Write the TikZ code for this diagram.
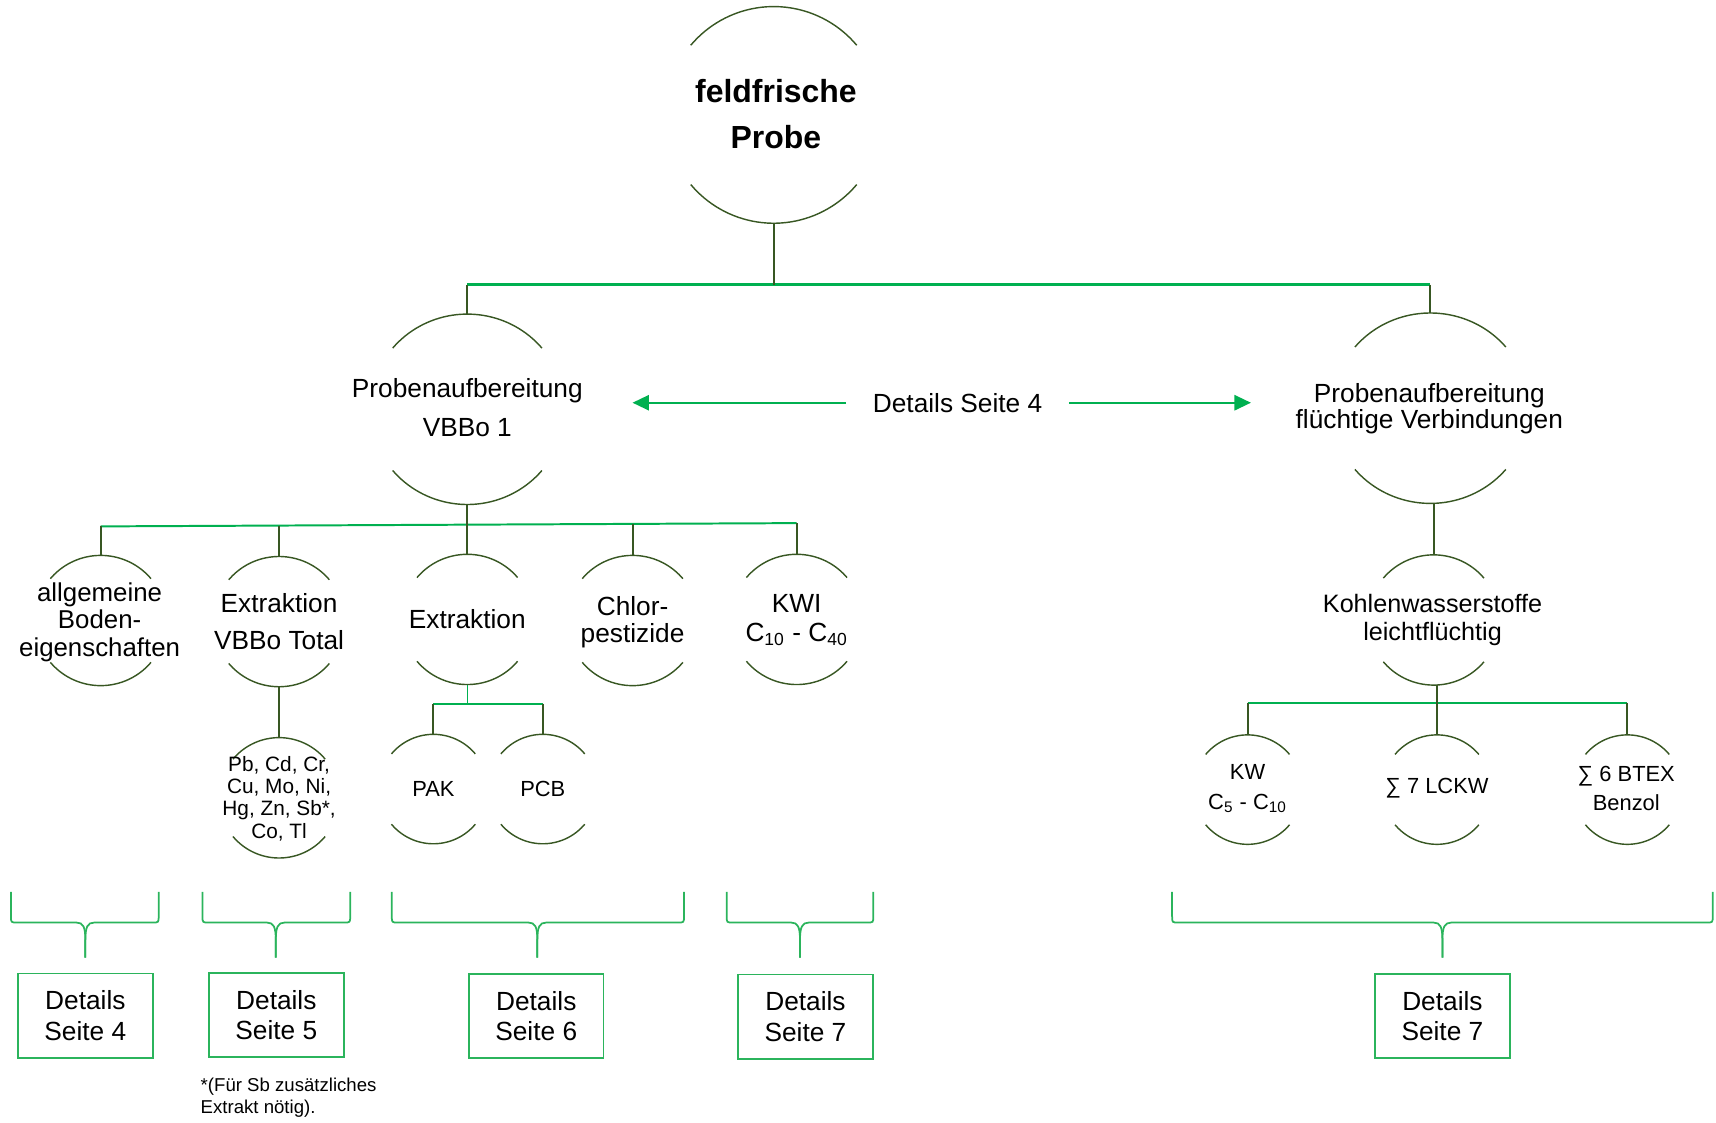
\documentclass[tikz,border=0pt]{standalone}
\usepackage{fontspec}
\setmainfont{Liberation Sans}
\usetikzlibrary{shapes.geometric,arrows.meta}
\definecolor{darkg}{HTML}{385723}
\definecolor{brightg}{HTML}{00B050}
\definecolor{braceg}{HTML}{2BB45C}
\tikzset{
  ringshape/.style={ellipse, inner sep=0pt, outer sep=0pt},
  ringline/.style={draw=darkg, line width=0.65pt},
  txt/.style={align=center, inner sep=0pt},
  conn/.style={draw=darkg, line width=0.9pt},
  gbar/.style={draw=brightg, line width=1.1pt},
  gbarthin/.style={draw=brightg, line width=0.9pt},
  arr/.style={draw=brightg, line width=0.75pt, -{Triangle[length=7.5pt,width=7pt]}},
  bracel/.style={draw=braceg, line width=0.8pt},
  detbox/.style={draw=braceg, line width=0.8pt, minimum width=61.5pt, minimum height=38.5pt,
    align=center, inner sep=0pt, font=\fontsize{12}{14}\selectfont},
  f12/.style={font=\fontsize{12}{12.5}\selectfont},
  f10/.style={font=\fontsize{10}{14}\selectfont}
}
\newcommand\ringnode[5]{%
  \node[ringshape, minimum width=#4pt, minimum height=#5pt] (#1) at (#2,#3) {};
  \draw[ringline, shift={(#1.center)}] plot[domain=220:320, samples=40] ({#4*cos(\x)},{#5*sin(\x)});
  \draw[ringline, shift={(#1.center)}] plot[domain=40:140, samples=40] ({#4*cos(\x)},{#5*sin(\x)});}
\newcommand\curlyb[3]{%
  \draw[bracel] (#1,815) -- (#1,837) .. controls (#1,843) .. ({#1+6},843) -- ({#3-8},843)
     .. controls ({#3-2},843) and (#3,847) .. (#3,859) -- (#3,875);
  \draw[bracel] (#2,815) -- (#2,837) .. controls (#2,843) .. ({#2-6},843) -- ({#3+8},843)
     .. controls ({#3+2},843) and (#3,847) .. (#3,859) -- (#3,875);}
\begin{document}
\begin{tikzpicture}[x=0.5pt, y=-0.5pt]
\useasboundingbox (0,0) rectangle (1568,1026);

% ---- level 0
\ringnode{top}{707}{105}{99}{99}
\node[txt, font=\fontsize{14.6}{21}\selectfont\bfseries] (topt) at (709,104) {feldfrische\\Probe};

% ---- level 1
\ringnode{pv}{427}{374}{89}{87}
\node[txt, font=\fontsize{12}{17.5}\selectfont] (pvt) at (427,372.5) {Probenaufbereitung\\VBBo 1};
\ringnode{pf}{1307}{373}{90}{87}
\node[txt, font=\fontsize{12}{12.2}\selectfont] (pft) at (1306,373.5) {Probenaufbereitung\\flüchtige Verbindungen};

\node[txt, f12, inner xsep=12pt] (d4) at (875,368) {Details Seite 4};
\coordinate (LA) at (578,368);
\coordinate (RA) at (1143,368);
\draw[arr] (d4.west) -- (LA);
\draw[arr] (d4.east) -- (RA);

% ---- level 2 (left)
\ringnode{a1}{92}{567}{60}{59.5}
\node[txt, font=\fontsize{11.8}{12.5}\selectfont] (a1t) at (91,568.5) {allgemeine\\Boden-\\eigenschaften};
\ringnode{a2}{255}{568}{60}{59.5}
\node[txt, font=\fontsize{12}{17}\selectfont] (a2t) at (255,568) {Extraktion\\VBBo Total};
\ringnode{a3}{427}{566}{60}{59.5}
\node[txt, f12] (a3t) at (427,566) {Extraktion};
\ringnode{a4}{578}{567}{60}{59.5}
\node[txt, f12] (a4t) at (578,568.5) {Chlor-\\pestizide};
\ringnode{a5}{728}{566}{60}{59.5}
\node[txt, font=\fontsize{12}{13}\selectfont] (a5t) at (728,566.5) {KWI\\C\textsubscript{10} - C\textsubscript{40}};

% ---- level 3 (left)
\ringnode{b1}{255}{729}{55}{55}
\node[txt, font=\fontsize{9.5}{10.2}\selectfont] (b1t) at (255,729.5) {Pb, Cd, Cr,\\Cu, Mo, Ni,\\Hg, Zn, Sb*,\\Co, Tl};
\ringnode{b2}{396}{721}{50}{50}
\node[txt, f10] (b2t) at (396,720.5) {PAK};
\ringnode{b3}{496}{721}{50}{50}
\node[txt, f10] (b3t) at (496,720.5) {PCB};

% ---- right branch
\ringnode{k}{1310}{566.5}{60}{59.5}
\node[txt, font=\fontsize{11.5}{13}\selectfont] (kt) at (1309,566.5) {Kohlenwasserstoffe\\leichtflüchtig};
\ringnode{c1}{1140}{721.5}{50}{50}
\node[txt, f10] (c1t) at (1140,720.5) {KW\\C\textsubscript{5} - C\textsubscript{10}};
\ringnode{c2}{1313}{721.5}{50}{50}
\node[txt, f10] (c2t) at (1313,720) {∑ 7 LCKW};
\ringnode{c3}{1487}{721.5}{50}{50}
\node[txt, font=\fontsize{10}{13.5}\selectfont] (c3t) at (1486,720.5) {∑ 6 BTEX\\Benzol};

% ---- connectors level 0 -> 1
\coordinate (J0) at (707,260);
\coordinate (L0) at (427,260);
\coordinate (R0) at (1307,260);
\draw[gbar] (L0) -- (R0);
\draw[conn] (top.south) -- (J0);
\draw[conn] (L0) -- (pv.north);
\draw[conn] (R0) -- (pf.north);

% ---- connectors level 1 -> 2 (left)
\coordinate (B1) at (92,481);
\coordinate (B2) at (255,480.4);
\coordinate (B4) at (578,478.7);
\coordinate (B5) at (728,478);
\draw[gbarthin] (B1) -- (B5);
\draw[conn] (B1) -- (a1.north);
\draw[conn] (B2) -- (a2.north);
\draw[conn] (B4) -- (a4.north);
\draw[conn] (B5) -- (a5.north);
\draw[conn] (pv.south) -- (a3.north);

% ---- connectors level 2 -> 3 (left)
\draw[conn] (a2.south) -- (b1.north);
\coordinate (E0) at (427,643);
\coordinate (E1) at (396,643);
\coordinate (E2) at (496,643);
\draw[draw=brightg, line width=0.6pt] (a3.south) -- (E0);
\draw[gbarthin] (E1) -- (E2);
\draw[conn] (E1) -- (b2.north);
\draw[conn] (E2) -- (b3.north);

% ---- right connectors
\draw[conn] (k.north |- pf.south) -- (k.north);
\coordinate (C1) at (1140,642);
\coordinate (C3) at (1487,642);
\draw[gbarthin] (C1) -- (C3);
\draw[conn] (k.south -| c2.north) -- (c2.north);
\draw[conn] (C1) -- (c1.north);
\draw[conn] (C3) -- (c3.north);

% ---- braces
\curlyb{10}{145}{78}
\curlyb{185}{320}{252}
\curlyb{358}{625}{491}
\curlyb{664}{798}{731}
\curlyb{1071}{1565}{1318}

% ---- detail boxes
\node[detbox] (d1) at (78,928) {Details\\Seite 4};
\node[detbox] (d2) at (252.5,927.5) {Details\\Seite 5};
\node[detbox] (d3) at (490,928.5) {Details\\Seite 6};
\node[detbox] (d5) at (736,929) {Details\\Seite 7};
\node[detbox] (d6) at (1318,928.5) {Details\\Seite 7};

% ---- footnote
\node[anchor=west, align=left, inner sep=0pt, font=\fontsize{8.5}{10}\selectfont] (fn) at (183,1003)
  {*(Für Sb zusätzliches\\Extrakt nötig).};
\end{tikzpicture}
\end{document}
